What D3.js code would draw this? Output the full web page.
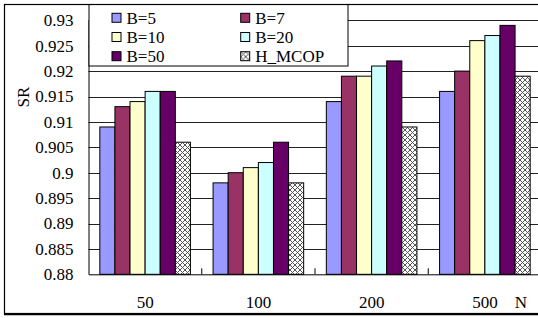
<!DOCTYPE html>
<html>
<head>
<meta charset="utf-8">
<script src="https://cdn.jsdelivr.net/npm/d3@7"></script>
<style>
  html, body { margin: 0; padding: 0; background: #fff; }
  svg { display: block; }
</style>
</head>
<body>
<div id="chart"></div>
<script>
var categories = ["50", "100", "200", "500"];
var seriesNames = ["B=5", "B=7", "B=10", "B=20", "B=50", "H_MCOP"];
var b5 = [0.909, 0.898, 0.914, 0.916];
var b7 = [0.913, 0.900, 0.919, 0.920];
var b10 = [0.914, 0.901, 0.919, 0.926];
var b20 = [0.916, 0.902, 0.921, 0.927];
var b50 = [0.916, 0.906, 0.922, 0.929];
var hMcop = [0.906, 0.898, 0.909, 0.919];
var yTicks = [0.88, 0.885, 0.89, 0.895, 0.9, 0.905, 0.91, 0.915, 0.92, 0.925, 0.93];
var yTickLabels = ["0.88", "0.885", "0.89", "0.895", "0.9", "0.905", "0.91", "0.915", "0.92", "0.925", "0.93"];

var seriesValues = [b5, b7, b10, b20, b50, hMcop];
var colors = ["#9999ff", "#993366", "#ffffcc", "#ccffff", "#660066", "url(#hatch)"];

var width = 538, height = 318,
    plotLeft = 88.5, plotRight = 541.5,
    plotTop = 20.3, plotBottom = 274.3,
    serif = "'Liberation Serif', 'Times New Roman', serif";

var svg = d3.select("#chart").append("svg")
    .attr("width", width)
    .attr("height", height)
    .attr("font-family", serif);

var pat = svg.append("defs").append("pattern")
    .attr("id", "hatch")
    .attr("patternUnits", "userSpaceOnUse")
    .attr("width", 5)
    .attr("height", 5);
pat.append("rect").attr("width", 5).attr("height", 5).attr("fill", "#fff");
pat.append("path")
    .attr("d", "M0,0L5,5M5,0L0,5")
    .attr("stroke", "#555")
    .attr("stroke-width", 1);

var x = d3.scaleBand()
    .domain(categories)
    .range([plotLeft, plotRight])
    .paddingInner(0.2)
    .paddingOuter(0.1);

var xs = d3.scaleBand()
    .domain(seriesNames)
    .range([0, x.bandwidth()]);

var y = d3.scaleLinear()
    .domain([0.88, 0.93])
    .range([plotBottom, plotTop]);

// gridlines
svg.append("g").selectAll("line")
    .data(yTicks.slice(1))
    .enter().append("line")
    .attr("x1", plotLeft)
    .attr("x2", plotRight)
    .attr("y1", function (d) { return Math.round(y(d)) + 0.5; })
    .attr("y2", function (d) { return Math.round(y(d)) + 0.5; })
    .attr("stroke", "#222")
    .attr("stroke-width", 1);

// bars
var groups = svg.append("g").selectAll("g")
    .data(seriesNames)
    .enter().append("g")
    .attr("fill", function (d, i) { return colors[i]; });

groups.selectAll("rect")
    .data(function (d, i) {
        return seriesValues[i].map(function (v, j) {
            return {s: d, c: categories[j], v: v};
        });
    })
    .enter().append("rect")
    .attr("x", function (d) { return x(d.c) + xs(d.s); })
    .attr("y", function (d) { return y(d.v); })
    .attr("width", xs.bandwidth())
    .attr("height", function (d) { return plotBottom - y(d.v); })
    .attr("stroke", "#000")
    .attr("stroke-width", 1);

// axes
var xAxis = svg.append("g")
    .attr("transform", "translate(0," + plotBottom + ")")
    .call(d3.axisBottom(x).tickSize(0).tickFormat(""));
xAxis.select(".domain").attr("stroke", "#000");

var step = x.step();
svg.append("g").selectAll("line")
    .data(categories.slice(1))
    .enter().append("line")
    .attr("x1", function (d) { return x(d) - step * 0.1; })
    .attr("x2", function (d) { return x(d) - step * 0.1; })
    .attr("y1", plotBottom)
    .attr("y2", plotBottom - 6)
    .attr("stroke", "#000");

svg.append("g").selectAll("text")
    .data(categories)
    .enter().append("text")
    .attr("x", function (d) { return x(d) + x.bandwidth() / 2; })
    .attr("y", 302.5)
    .attr("dy", "0.35em")
    .attr("text-anchor", "middle")
    .attr("font-family", serif)
    .attr("font-size", 17)
    .text(function (d) { return d; });

svg.append("text")
    .attr("x", 521)
    .attr("y", 302.5)
    .attr("dy", "0.35em")
    .attr("text-anchor", "middle")
    .attr("font-family", serif)
    .attr("font-size", 17)
    .text("N");

var yAxis = svg.append("g")
    .attr("transform", "translate(" + plotLeft + ",0)")
    .call(d3.axisLeft(y).tickValues(yTicks).tickSize(0).tickPadding(15)
        .tickFormat(function (d, i) { return yTickLabels[i]; }));
yAxis.attr("font-family", serif).attr("font-size", 17);
yAxis.select(".domain").attr("stroke", "#000");
yAxis.selectAll("text").attr("fill", "#000");

svg.append("text")
    .attr("transform", "translate(23,97) rotate(-90)")
    .attr("text-anchor", "middle")
    .attr("dy", "0.35em")
    .attr("font-family", serif)
    .attr("font-size", 17)
    .text("SR");

// legend
var legend = svg.append("g");
legend.append("rect")
    .attr("x", 89)
    .attr("y", 4.5)
    .attr("width", 259)
    .attr("height", 61.5)
    .attr("fill", "#fff")
    .attr("stroke", "#000");

var items = legend.selectAll("g.item")
    .data(seriesNames)
    .enter().append("g")
    .attr("class", "item")
    .attr("transform", function (d, i) {
        return "translate(" + (i % 2 === 0 ? 112 : 240.7) + "," + (13.3 + Math.floor(i / 2) * 19.2) + ")";
    });

items.append("rect")
    .attr("width", 9)
    .attr("height", 9)
    .attr("fill", function (d, i) { return colors[i]; })
    .attr("stroke", "#000");

items.append("text")
    .attr("x", 14.5)
    .attr("y", 4.8)
    .attr("dy", "0.35em")
    .attr("font-family", serif)
    .attr("font-size", 17)
    .text(function (d) { return d; });

// chart border
svg.append("rect")
    .attr("x", 4.5)
    .attr("y", 4.5)
    .attr("width", 600)
    .attr("height", 309)
    .attr("fill", "none")
    .attr("stroke", "#000")
    .attr("stroke-width", 1.2);
svg.append("line")
    .attr("x1", 4).attr("x2", width)
    .attr("y1", 314.5).attr("y2", 314.5)
    .attr("stroke", "#000")
    .attr("stroke-width", 1.5);
</script>
</body>
</html>
